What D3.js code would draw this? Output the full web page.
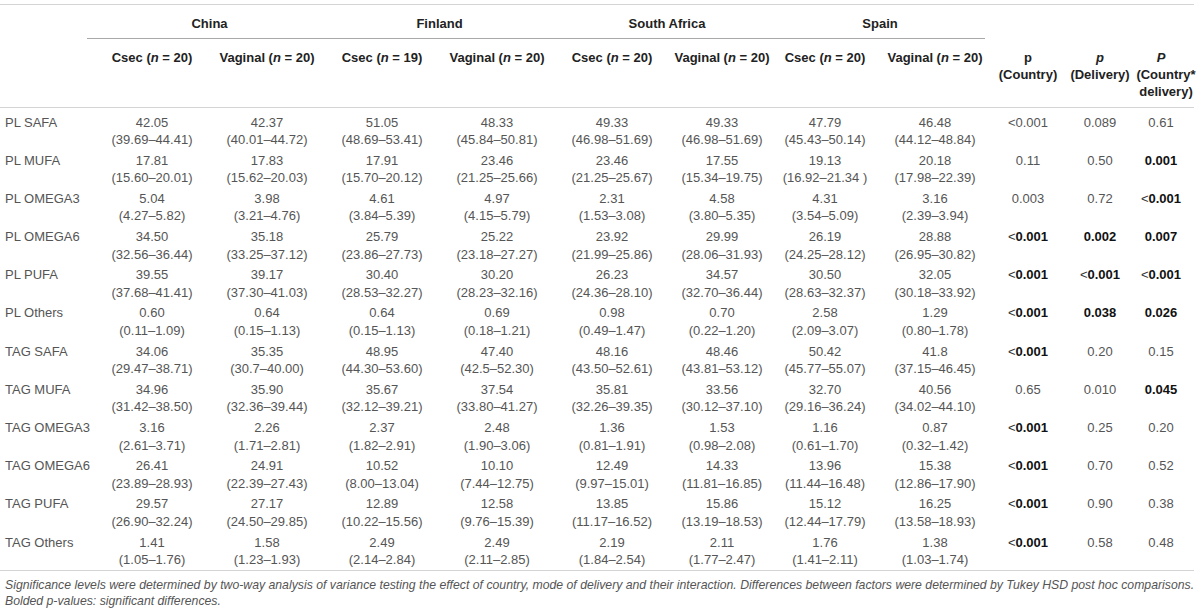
<!DOCTYPE html>
<html>
<head>
<meta charset="utf-8">
<script src="https://cdn.jsdelivr.net/npm/d3@7"></script>
<style>
  body { margin: 0; background: #fff; }
  svg { display: block; font-family: "Liberation Sans", Arial, sans-serif; }
</style>
</head>
<body>
<svg id="table"></svg>
<script>
const width = 1200,
    height = 615;

const rowLabels = ["PL SAFA", "PL MUFA", "PL OMEGA3", "PL OMEGA6", "PL PUFA", "PL Others",
    "TAG SAFA", "TAG MUFA", "TAG OMEGA3", "TAG OMEGA6", "TAG PUFA", "TAG Others"];
const countries = ["China", "Finland", "South Africa", "Spain"];
const groups = [
    { country: "China", mode: "Csec", n: 20 },
    { country: "China", mode: "Vaginal", n: 20 },
    { country: "Finland", mode: "Csec", n: 19 },
    { country: "Finland", mode: "Vaginal", n: 20 },
    { country: "South Africa", mode: "Csec", n: 20 },
    { country: "South Africa", mode: "Vaginal", n: 20 },
    { country: "Spain", mode: "Csec", n: 20 },
    { country: "Spain", mode: "Vaginal", n: 20 },
];
const means = [
    ["42.05", "42.37", "51.05", "48.33", "49.33", "49.33", "47.79", "46.48"],
    ["17.81", "17.83", "17.91", "23.46", "23.46", "17.55", "19.13", "20.18"],
    ["5.04", "3.98", "4.61", "4.97", "2.31", "4.58", "4.31", "3.16"],
    ["34.50", "35.18", "25.79", "25.22", "23.92", "29.99", "26.19", "28.88"],
    ["39.55", "39.17", "30.40", "30.20", "26.23", "34.57", "30.50", "32.05"],
    ["0.60", "0.64", "0.64", "0.69", "0.98", "0.70", "2.58", "1.29"],
    ["34.06", "35.35", "48.95", "47.40", "48.16", "48.46", "50.42", "41.8"],
    ["34.96", "35.90", "35.67", "37.54", "35.81", "33.56", "32.70", "40.56"],
    ["3.16", "2.26", "2.37", "2.48", "1.36", "1.53", "1.16", "0.87"],
    ["26.41", "24.91", "10.52", "10.10", "12.49", "14.33", "13.96", "15.38"],
    ["29.57", "27.17", "12.89", "12.58", "13.85", "15.86", "15.12", "16.25"],
    ["1.41", "1.58", "2.49", "2.49", "2.19", "2.11", "1.76", "1.38"],
];
const intervals = [
    ["39.69–44.41", "40.01–44.72", "48.69–53.41", "45.84–50.81", "46.98–51.69", "46.98–51.69", "45.43–50.14", "44.12–48.84"],
    ["15.60–20.01", "15.62–20.03", "15.70–20.12", "21.25–25.66", "21.25–25.67", "15.34–19.75", "16.92–21.34 ", "17.98–22.39"],
    ["4.27–5.82", "3.21–4.76", "3.84–5.39", "4.15–5.79", "1.53–3.08", "3.80–5.35", "3.54–5.09", "2.39–3.94"],
    ["32.56–36.44", "33.25–37.12", "23.86–27.73", "23.18–27.27", "21.99–25.86", "28.06–31.93", "24.25–28.12", "26.95–30.82"],
    ["37.68–41.41", "37.30–41.03", "28.53–32.27", "28.23–32.16", "24.36–28.10", "32.70–36.44", "28.63–32.37", "30.18–33.92"],
    ["0.11–1.09", "0.15–1.13", "0.15–1.13", "0.18–1.21", "0.49–1.47", "0.22–1.20", "2.09–3.07", "0.80–1.78"],
    ["29.47–38.71", "30.7–40.00", "44.30–53.60", "42.5–52.30", "43.50–52.61", "43.81–53.12", "45.77–55.07", "37.15–46.45"],
    ["31.42–38.50", "32.36–39.44", "32.12–39.21", "33.80–41.27", "32.26–39.35", "30.12–37.10", "29.16–36.24", "34.02–44.10"],
    ["2.61–3.71", "1.71–2.81", "1.82–2.91", "1.90–3.06", "0.81–1.91", "0.98–2.08", "0.61–1.70", "0.32–1.42"],
    ["23.89–28.93", "22.39–27.43", "8.00–13.04", "7.44–12.75", "9.97–15.01", "11.81–16.85", "11.44–16.48", "12.86–17.90"],
    ["26.90–32.24", "24.50–29.85", "10.22–15.56", "9.76–15.39", "11.17–16.52", "13.19–18.53", "12.44–17.79", "13.58–18.93"],
    ["1.05–1.76", "1.23–1.93", "2.14–2.84", "2.11–2.85", "1.84–2.54", "1.77–2.47", "1.41–2.11", "1.03–1.74"],
];
const pCountry = ["<0.001", "0.11", "0.003", "<0.001", "<0.001", "<0.001", "<0.001", "0.65", "<0.001", "<0.001", "<0.001", "<0.001"];
const pDelivery = ["0.089", "0.50", "0.72", "0.002", "<0.001", "0.038", "0.20", "0.010", "0.25", "0.70", "0.90", "0.58"];
const pInteraction = ["0.61", "0.001", "<0.001", "0.007", "<0.001", "0.026", "0.15", "0.045", "0.20", "0.52", "0.38", "0.48"];
// bolded = significant, as marked in the source table
const boldCountry = [0, 0, 0, 1, 1, 1, 1, 0, 1, 1, 1, 1];
const boldDelivery = [0, 0, 0, 1, 1, 1, 0, 0, 0, 0, 0, 0];
const boldInteraction = [0, 1, 1, 1, 1, 1, 0, 1, 0, 0, 0, 0];
const pHeaders = [
    { key: "pc", lines: ["p", "(Country)"], italic: false },
    { key: "pd", lines: ["p", "(Delivery)"], italic: true },
    { key: "pi", lines: ["P", "(Country*", "delivery)"], italic: true },
];
const footnote = [
    "Significance levels were determined by two-way analysis of variance testing the effect of country, mode of delivery and their interaction. Differences between factors were determined by Tukey HSD post hoc comparisons.",
    "Bolded p-values: significant differences.",
];

const textColor = "#555",
    headColor = "#222",
    ruleColor = "#d4d4d4";

const svg = d3.select("svg#table")
    .attr("width", width)
    .attr("height", height);

// column centres (table auto layout is not uniform)
const colKeys = d3.range(groups.length).concat(["pc", "pd", "pi"]);
const x = d3.scaleOrdinal()
    .domain(colKeys)
    .range([152, 267, 382, 497, 612, 722, 825, 935, 1028, 1100, 1161]);
const y = d3.scalePoint()
    .domain(rowLabels)
    .range([122, 542]);
const ciOffset = 17.5;

// rules
const rules = [
    { x1: 0, x2: 1194, y: 4.5, c: ruleColor },
    { x1: 87, x2: 985, y: 38.5, c: "#a8a8a8" },
    { x1: 0, x2: 1194, y: 107.5, c: ruleColor },
    { x1: 0, x2: 1194, y: 570.5, c: ruleColor },
];
svg.selectAll("line.rule")
    .data(rules)
    .enter()
    .append("line")
    .classed("rule", true)
    .attr("x1", d => d.x1)
    .attr("x2", d => d.x2)
    .attr("y1", d => d.y)
    .attr("y2", d => d.y)
    .attr("stroke", d => d.c)
    .attr("stroke-width", 1)

// country headers
svg.selectAll("text.country")
    .data(countries)
    .enter()
    .append("text")
    .classed("country", true)
    .attr("x", c => {
        const idx = groups.map((g, i) => g.country === c ? i : -1).filter(i => i >= 0);
        return d3.mean(idx, i => x(i));
    })
    .attr("y", 23)
    .attr("dy", "0.35em")
    .attr("text-anchor", "middle")
    .attr("font-size", 13)
    .attr("font-weight", "bold")
    .attr("fill", headColor)
    .text(c => c)

// group sub-headers
const sub = svg.selectAll("text.sub")
    .data(groups)
    .enter()
    .append("text")
    .classed("sub", true)
    .attr("x", (d, i) => x(i))
    .attr("y", 57)
    .attr("dy", "0.35em")
    .attr("text-anchor", "middle")
    .attr("font-size", 13)
    .attr("font-weight", "bold")
    .attr("fill", headColor)
sub.append("tspan").text(d => d.mode + " (")
sub.append("tspan").attr("font-style", "italic").text("n")
sub.append("tspan").text(d => " = " + d.n + ")")

// p-value headers (last column's wrapped lines sit a little right of the P)
pHeaders.forEach(h => {
    const t = svg.append("text")
        .attr("text-anchor", "middle")
        .attr("font-size", 13)
        .attr("font-weight", "bold")
        .attr("fill", headColor)
    h.lines.forEach((line, i) => {
        t.append("tspan")
            .attr("x", x(h.key) + (h.key === "pi" && i > 0 ? 5 : 0))
            .attr("y", 57 + i * 17)
            .attr("dy", "0.35em")
            .attr("font-style", i === 0 && h.italic ? "italic" : "normal")
            .text(line)
    })
})

// row labels
svg.selectAll("text.label")
    .data(rowLabels)
    .enter()
    .append("text")
    .classed("label", true)
    .attr("x", 5)
    .attr("y", d => y(d))
    .attr("dy", "0.35em")
    .attr("font-size", 13)
    .attr("fill", textColor)
    .text(d => d)

// cell values
const rows = svg.selectAll("g.row")
    .data(rowLabels)
    .enter()
    .append("g")
    .classed("row", true)
    .attr("transform", d => `translate(0,${y(d)})`)
rows.each(function (label, r) {
    const row = d3.select(this);
    row.selectAll("text.mean")
        .data(means[r])
        .enter()
        .append("text")
        .attr("x", (d, i) => x(i))
        .attr("dy", "0.35em")
        .attr("text-anchor", "middle")
        .attr("font-size", 13)
        .attr("fill", textColor)
        .text(d => d)
    row.selectAll("text.ci")
        .data(intervals[r])
        .enter()
        .append("text")
        .attr("x", (d, i) => x(i))
        .attr("y", ciOffset)
        .attr("dy", "0.35em")
        .attr("text-anchor", "middle")
        .attr("font-size", 13)
        .attr("fill", textColor)
        .style("white-space", "pre")
        .text(d => "(" + d + ")")
    const pv = [
        { key: "pc", v: pCountry[r], b: boldCountry[r] },
        { key: "pd", v: pDelivery[r], b: boldDelivery[r] },
        { key: "pi", v: pInteraction[r], b: boldInteraction[r] },
    ];
    const pt = row.selectAll("text.p")
        .data(pv)
        .enter()
        .append("text")
        .attr("x", d => x(d.key))
        .attr("dy", "0.35em")
        .attr("text-anchor", "middle")
        .attr("font-size", 13)
    pt.each(function (d) {
        const t = d3.select(this);
        const lt = d.v.startsWith("<");
        if (lt) t.append("tspan").attr("fill", d.b ? "#333" : textColor).text("<");
        t.append("tspan")
            .attr("font-weight", d.b ? "bold" : "normal")
            .attr("fill", d.b ? "#111" : textColor)
            .text(lt ? d.v.slice(1) : d.v)
    })
})

// footnote
svg.selectAll("text.note")
    .data(footnote)
    .enter()
    .append("text")
    .classed("note", true)
    .attr("x", 5)
    .attr("y", (d, i) => 585 + i * 15.5)
    .attr("dy", "0.35em")
    .attr("font-size", 12.25)
    .attr("font-style", "italic")
    .attr("fill", textColor)
    .text(d => d)
</script>
</body>
</html>
